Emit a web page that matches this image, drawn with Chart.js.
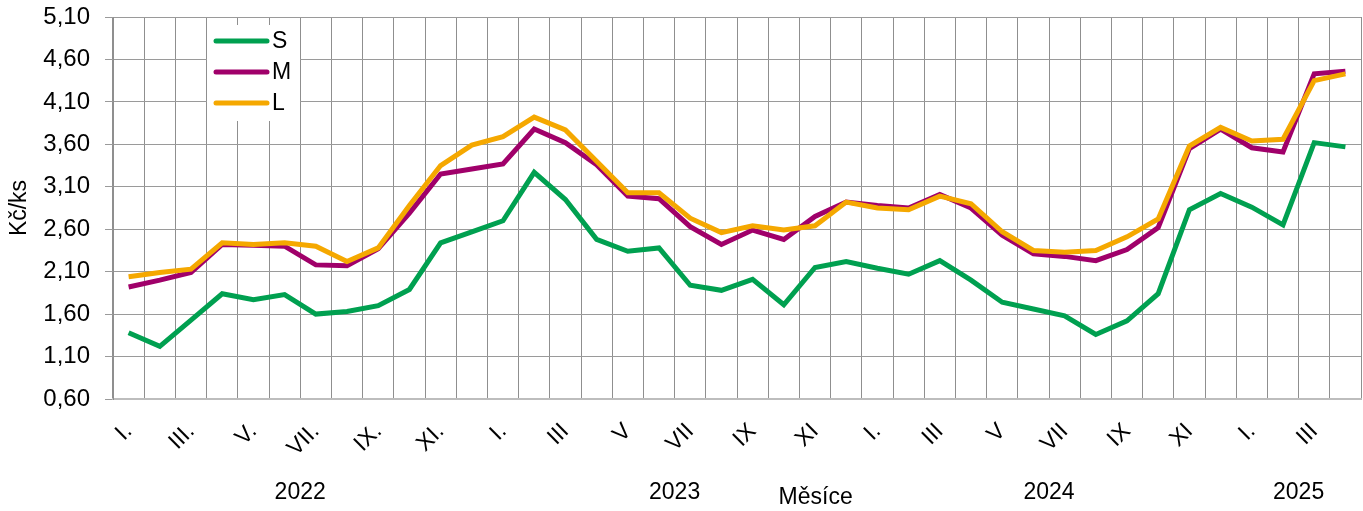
<!DOCTYPE html>
<html>
<head>
<meta charset="utf-8">
<script src="https://cdn.jsdelivr.net/npm/chart.js@4"></script>
<style>
  body { margin: 0; background: #fff; }
  #wrap { width: 1363px; height: 511px; }
</style>
</head>
<body>
<div id="wrap"><canvas id="chart" width="1363" height="511"></canvas></div>
<script>
// months Jan 2022 - Apr 2025
const monthLabels = [
    'I.', 'II.', 'III.', 'IV.', 'V.', 'VI.', 'VII.', 'VIII.', 'IX.', 'X.', 'XI.', 'XII.',
    'I.', 'II', 'III', 'IV', 'V', 'VI', 'VII', 'VIII', 'IX', 'X', 'XI', 'XII',
    'I.', 'II', 'III', 'IV', 'V', 'VI', 'VII', 'VIII', 'IX', 'X', 'XI', 'XII',
    'I.', 'II', 'III', 'IV'
];
const years = ['2022', '2023', '2024', '2025'];
const monthsPerYear = [12, 12, 12, 4];

const seriesS = [1.38, 1.22, 1.53, 1.84, 1.77, 1.83, 1.60, 1.63, 1.70, 1.89, 2.44, 2.57, 2.70, 3.27, 2.95, 2.48, 2.34, 2.38, 1.94, 1.88,
                 2.01, 1.71, 2.15, 2.22, 2.14, 2.07, 2.23, 2.00, 1.74, 1.66, 1.58, 1.36, 1.52, 1.84, 2.83, 3.02, 2.86, 2.65, 3.62, 3.57];
const seriesM = [1.92, 2.00, 2.09, 2.42, 2.41, 2.40, 2.18, 2.17, 2.37, 2.79, 3.25, 3.31, 3.37, 3.78, 3.62, 3.36, 2.99, 2.96, 2.63, 2.42,
                 2.59, 2.48, 2.75, 2.92, 2.88, 2.85, 3.01, 2.85, 2.53, 2.31, 2.28, 2.23, 2.36, 2.62, 3.55, 3.78, 3.56, 3.51, 4.43, 4.46];
const seriesL = [2.04, 2.09, 2.13, 2.44, 2.42, 2.44, 2.40, 2.22, 2.38, 2.88, 3.35, 3.59, 3.69, 3.92, 3.77, 3.40, 3.03, 3.03, 2.73, 2.56,
                 2.64, 2.59, 2.64, 2.92, 2.85, 2.83, 2.99, 2.90, 2.57, 2.35, 2.33, 2.35, 2.51, 2.72, 3.58, 3.80, 3.64, 3.66, 4.35, 4.43];

const seriesNames = ['S', 'M', 'L'];
const colors = ['#00a050', '#a0006a', '#f5a800'];

const yMin = 0.6, yMax = 5.1, yStep = 0.5;

const fontFamily = '"Liberation Sans", Arial, sans-serif';

// drop the extra padding chart.js adds for the edge labels
function noEdgePadding(scale) {
    scale.paddingTop = 0;
    scale.paddingBottom = 0;
    scale.paddingLeft = 0;
    scale.paddingRight = 0;
}

// year captions, axis title and the legend are drawn by hand
const extraText = {
    id: 'extraText',
    afterDraw(chart) {
        const ctx = chart.ctx;
        const x = chart.scales.x;
        const area = chart.chartArea;
        ctx.save();
        ctx.fillStyle = '#000';
        ctx.font = '23px ' + fontFamily;
        ctx.textAlign = 'center';
        ctx.textBaseline = 'middle';
        let start = 0;
        years.forEach((y, i) => {
            const end = start + monthsPerYear[i] - 1;
            const px = (x.getPixelForValue(start) + x.getPixelForValue(end)) / 2;
            ctx.fillText(y, px, 493);
            start = end + 1;
        });
        ctx.fillText('Měsíce', area.left + (area.right - area.left) * 0.563, 498);

        // legend box
        ctx.fillStyle = '#fff';
        ctx.fillRect(207, 25, 93, 96);
        const rows = [41, 72, 103];
        ctx.lineCap = 'round';
        ctx.lineWidth = 5;
        seriesNames.forEach((name, i) => {
            ctx.strokeStyle = colors[i];
            ctx.beginPath();
            ctx.moveTo(216, rows[i]);
            ctx.lineTo(267, rows[i]);
            ctx.stroke();
            ctx.fillStyle = '#000';
            ctx.textAlign = 'left';
            ctx.font = '23px ' + fontFamily;
            ctx.fillText(name, 272, rows[i] + 1);
        });
        ctx.restore();
    }
};

const ctx = document.getElementById('chart').getContext('2d');
const chart = new Chart(ctx, {
    type: 'line',
    data: {
        labels: monthLabels,
        datasets: [
            { label: seriesNames[0], data: seriesS, borderColor: colors[0], order: 2 },
            { label: seriesNames[1], data: seriesM, borderColor: colors[1], order: 1 },
            { label: seriesNames[2], data: seriesL, borderColor: colors[2], order: 0 }
        ]
    },
    options: {
        responsive: false,
        animation: false,
        events: [],
        elements: {
            line: { borderWidth: 5, tension: 0, fill: false },
            point: { radius: 0 }
        },
        layout: { padding: { top: 17, right: 2, left: 6, bottom: 0 } },
        plugins: {
            legend: { display: false },
            tooltip: { enabled: false }
        },
        scales: {
            x: {
                offset: true,
                grid: { offset: true, color: '#8f8f8f', lineWidth: 1, tickLength: 0 },
                border: { color: '#bdbdbd', width: 2 },
                ticks: {
                    autoSkip: false,
                    minRotation: 45,
                    maxRotation: 45,
                    padding: 19,
                    color: '#000',
                    font: { family: fontFamily, size: 23 },
                    callback: function (val, idx) {
                        return idx % 2 === 0 ? monthLabels[idx] : '';
                    }
                },
                afterFit(scale) {
                    scale.height = 112;
                    noEdgePadding(scale);
                }
            },
            y: {
                min: yMin,
                max: yMax,
                grid: { color: '#9a9a9a', lineWidth: 1, tickLength: 8 },
                border: { color: '#8f8f8f' },
                ticks: {
                    stepSize: yStep,
                    padding: 15,
                    color: '#000',
                    font: { family: fontFamily, size: 24 },
                    callback: v => v.toFixed(2).replace('.', ',')
                },
                title: {
                    display: true,
                    text: 'Kč/ks',
                    color: '#000',
                    font: { family: fontFamily, size: 23 },
                    padding: { top: 0, bottom: 2 }
                },
                afterFit(scale) {
                    scale.width = 107;
                    noEdgePadding(scale);
                }
            }
        }
    },
    plugins: [extraText]
});
</script>
</body>
</html>
